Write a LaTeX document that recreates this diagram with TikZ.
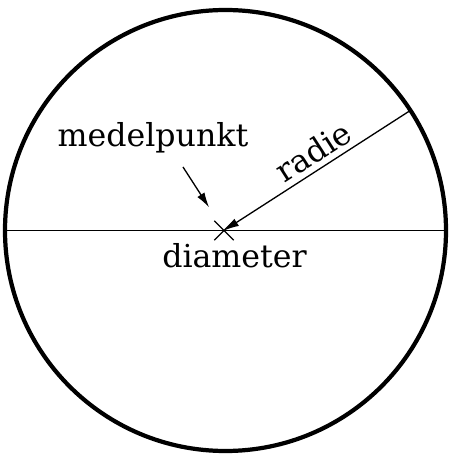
\documentclass[tikz,border=0pt]{standalone}
\usepackage{fontspec}
\setmainfont{DejaVu Serif}
\usepackage{tikz}
\usetikzlibrary{arrows.meta,shapes.misc}
\tikzstyle{rim}=[draw,line width=2.4pt]
\tikzstyle{thinline}=[line width=0.75pt]
\tikzstyle{orientedarc}=[-{Latex[length=0.3cm,width=0.17cm]},line width=0.75pt]
\tikzstyle{centremark}=[draw,cross out,minimum size=0.36cm,inner sep=0pt,line width=0.75pt]
\tikzstyle{word}=[font=\fontsize{18}{20}\selectfont,inner sep=0pt]

\begin{document}
\begin{tikzpicture}

\useasboundingbox (-4.51cm,-4.61cm) rectangle (4.59cm,4.61cm);

\draw[rim] (0cm,0cm) circle (4.41cm);

\node[centremark] (centre) at (-0.03cm,0cm) {};
\coordinate (W) at (180:4.41cm);
\coordinate (E) at (0:4.41cm);
\coordinate (rimpoint) at (33:4.41cm);
\coordinate (mtail) at (-0.85cm,1.27cm);

\node[word, anchor=base] (medel) at (-1.45cm,1.67cm) {medelpunkt};
\node[word, anchor=base] (diam) at (0.18cm,-0.75cm) {diameter};

\draw[thinline] (W) -- (E);
\draw[orientedarc] (rimpoint) -- (centre.center) node[word, pos=0.47, sloped, above=3pt] (rad) {radie};
\draw[orientedarc, shorten >=0.55cm] (mtail) -- (centre.center);

\end{tikzpicture}
\end{document}
